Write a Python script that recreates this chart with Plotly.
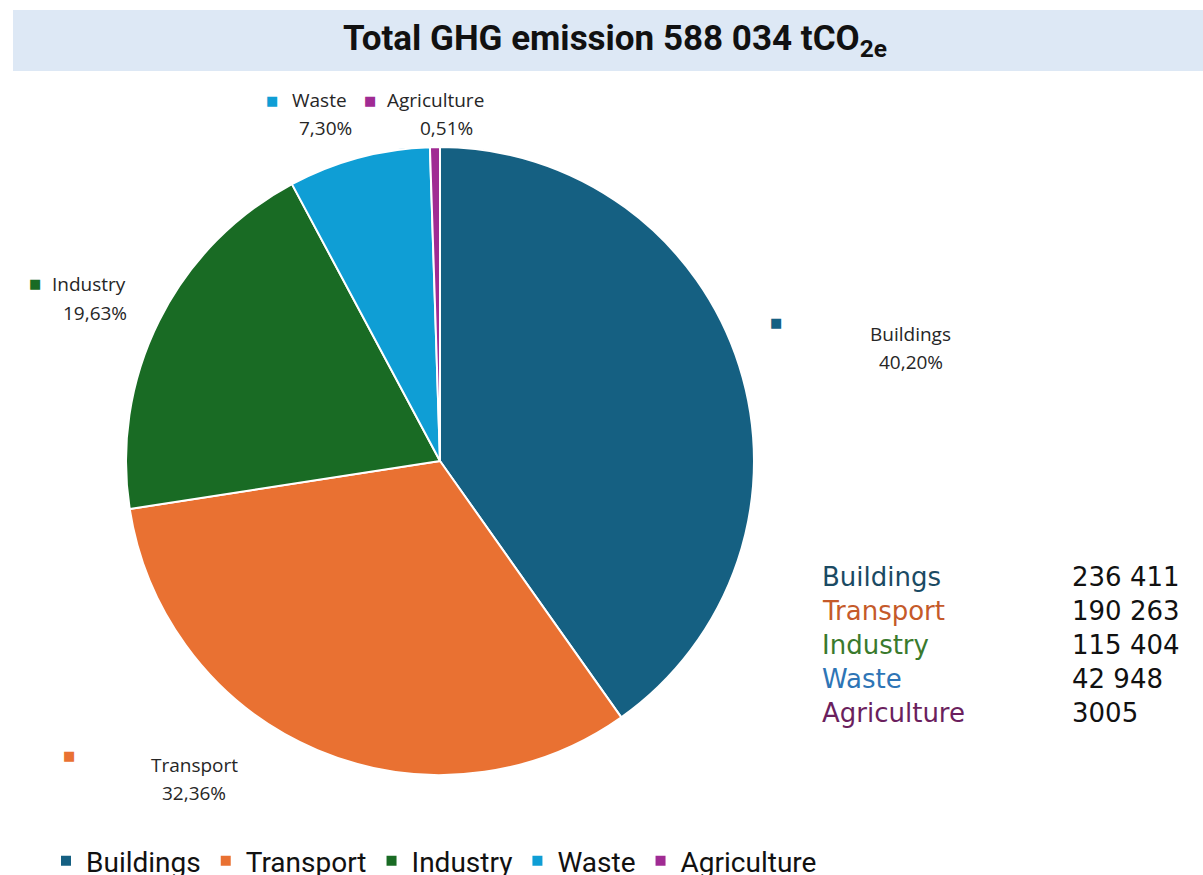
import plotly.graph_objects as go

categories = ["Buildings", "Transport", "Industry", "Waste", "Agriculture"]
emissions = [236411, 190263, 115404, 42948, 3005]
slice_colors = ["#156082", "#E97132", "#196B24", "#0F9ED5", "#A02B93"]
table_colors = ["#1B4A63", "#C55A2A", "#3A7A2D", "#2E75B6", "#6B1F5E"]
value_labels = ["236 411", "190 263", "115 404", "42 948", "3005"]
title_text = "Total GHG emission 588 034 tCO<sub>2e</sub>"

total = sum(emissions)
pct = [f"{v / total * 100:.2f}".replace(".", ",") + "%" for v in emissions]

W, H = 1203, 875
cx, cy, r = 440, 461, 314


def px(x):
    return x / W


def py(y):
    return 1 - y / H


fig = go.Figure()
fig.add_trace(go.Pie(
    labels=categories,
    values=emissions,
    sort=False,
    direction="clockwise",
    rotation=0,
    marker=dict(colors=slice_colors, line=dict(color="white", width=2)),
    textinfo="none",
    hoverinfo="label+value+percent",
    domain=dict(x=[px(cx - r), px(cx + r)], y=[py(cy + r), py(cy - r)]),
))

label_font = dict(family="Open Sans", size=19, color="#262626")
ann = []
idx = {c: i for i, c in enumerate(categories)}
sq = "■"


def marker(i, x, y, size=13):
    ann.append(dict(x=px(x), y=py(y), xref="paper", yref="paper", text=sq, showarrow=False,
                    font=dict(family="DejaVu Sans", size=size, color=slice_colors[i]),
                    xanchor="center", yanchor="middle"))


def text(t, x, y, anchor="center"):
    ann.append(dict(x=px(x), y=py(y), xref="paper", yref="paper", text=t, showarrow=False,
                    font=label_font, xanchor=anchor, yanchor="middle"))


# data labels (outside the pie, as in the reference)
i = idx["Waste"]; marker(i, 272, 100); text(categories[i], 290, 100, "left"); text(pct[i], 325, 128)
i = idx["Agriculture"]; marker(i, 370, 100); text(categories[i], 385, 100, "left"); text(pct[i], 446, 128)
i = idx["Industry"]; marker(i, 35, 284); text(categories[i], 50, 284, "left"); text(pct[i], 95, 313)
i = idx["Buildings"]; marker(i, 776, 322); text(categories[i], 911, 334); text(pct[i], 911, 362)
i = idx["Transport"]; marker(i, 69, 755); text(categories[i], 194, 765); text(pct[i], 194, 793)

# value table on the right
for k, c in enumerate(categories):
    yy = 577 + k * 34
    ann.append(dict(x=px(820), y=py(yy), xref="paper", yref="paper", text=c, showarrow=False,
                    font=dict(family="DejaVu Sans", size=26, color=table_colors[k]),
                    xanchor="left", yanchor="middle"))
    ann.append(dict(x=px(1070), y=py(yy), xref="paper", yref="paper", text=value_labels[k], showarrow=False,
                    font=dict(family="DejaVu Sans", size=26, color="#111111"),
                    xanchor="left", yanchor="middle"))

# title on a light blue band
ann.append(dict(x=px(615), y=py(41), xref="paper", yref="paper", text="<b>" + title_text + "</b>",
                showarrow=False, font=dict(family="Roboto", size=35, color="#111111"),
                xanchor="center", yanchor="middle"))

fig.update_layout(
    width=W, height=H,
    margin=dict(l=0, r=0, t=0, b=0, autoexpand=False),
    paper_bgcolor="white",
    plot_bgcolor="white",
    annotations=ann,
    shapes=[dict(type="rect", xref="paper", yref="paper", x0=px(13), x1=1.0, y0=py(71), y1=py(10),
                 fillcolor="#DDE8F5", line=dict(width=0), layer="below")],
    showlegend=True,
    legend=dict(orientation="h", x=px(46), y=py(861), xanchor="left", yanchor="middle",
                font=dict(family="Roboto", size=28, color="#111111"),
                itemwidth=30, traceorder="normal"),
)

fig.write_html("out.html", config={"displayModeBar": False},
               post_script="document.body.style.margin='0';")
